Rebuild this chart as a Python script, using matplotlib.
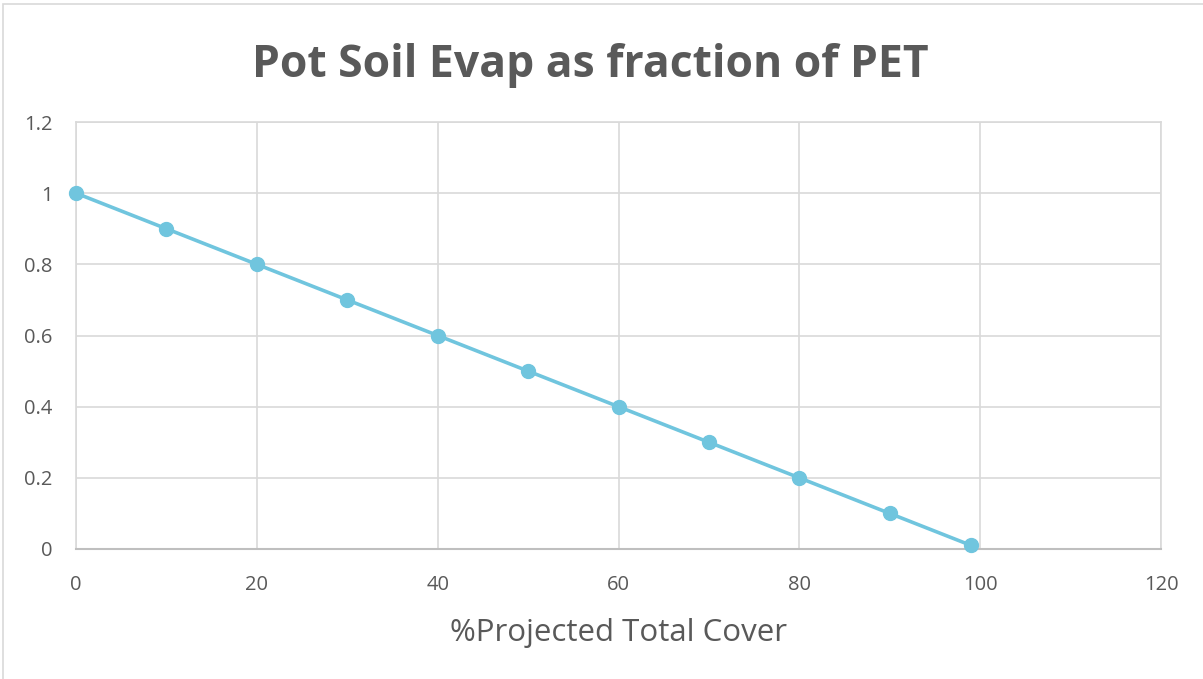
import matplotlib.pyplot as plt
from matplotlib.patches import Rectangle

cover = [0, 10, 20, 30, 40, 50, 60, 70, 80, 90, 99]
evap_frac = [1.0, 0.9, 0.8, 0.7, 0.6, 0.5, 0.4, 0.3, 0.2, 0.1, 0.01]
xticks = [0, 20, 40, 60, 80, 100, 120]
yticks = [0, 0.2, 0.4, 0.6, 0.8, 1, 1.2]
ytick_labels = ["0", "0.2", "0.4", "0.6", "0.8", "1", "1.2"]

text_col = "#595959"
grid_col = "#d9d9d9"
line_col = "#70c5de"

plt.rcParams['font.family'] = ['Open Sans', 'DejaVu Sans']

fig = plt.figure(figsize=(12.03, 6.79), dpi=100)
ax = fig.add_axes([76 / 1203, 1 - 549 / 679, (1161 - 76) / 1203, (549 - 122) / 679])

# outer chart frame
fig.patches.append(Rectangle((3 / 1203, -0.01), 1.02, 1 - 4 / 679 + 0.01,
                             transform=fig.transFigure, fill=False,
                             edgecolor="#d9d9d9", linewidth=1.2))

ax.plot(cover, evap_frac, color=line_col, linewidth=2.6, marker='o',
        markersize=10, zorder=3, clip_on=False)

ax.set_xlim(0, 120)
ax.set_ylim(0, 1.2)
ax.set_xticks(xticks)
ax.set_yticks(yticks)
ax.set_yticklabels(ytick_labels)
ax.grid(True, color=grid_col, linewidth=1.2)
ax.set_axisbelow(True)
for side in ['top', 'right', 'left']:
    ax.spines[side].set_color(grid_col)
    ax.spines[side].set_linewidth(1.2)
ax.spines['bottom'].set_color("#bfbfbf")
ax.spines['bottom'].set_linewidth(1.5)
ax.tick_params(length=0, labelsize=14.5, labelcolor=text_col)
ax.tick_params(axis='x', pad=19)
ax.tick_params(axis='y', pad=17)

ax.set_xlabel("%Projected Total Cover", fontsize=22.5, color=text_col, labelpad=16)
fig.text(0.491, 1 - 65 / 679, "Pot Soil Evap as fraction of PET", ha='center', va='center',
         fontsize=32, fontweight='bold', color=text_col)

fig.savefig("out.png", dpi=100)
